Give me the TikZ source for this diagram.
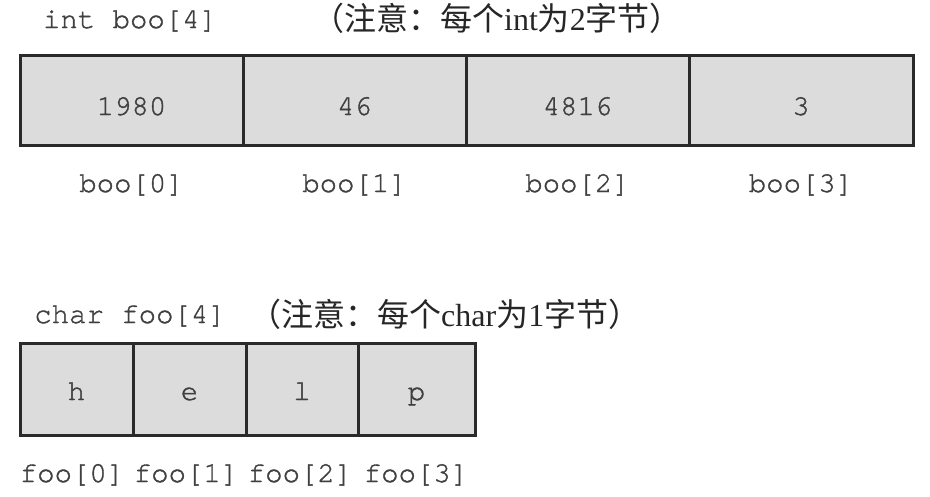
\documentclass[tikz,border=0pt]{standalone}
\usepackage{fontspec}
\setmainfont{Liberation Serif}
\newfontfamily\codefont[FakeBold=1.3]{TeX Gyre Cursor}
\newfontfamily\cjk{Noto Sans CJK SC}
\definecolor{cellfill}{HTML}{DCDCDC}
\definecolor{cellline}{HTML}{2A2A2A}
\definecolor{codetext}{HTML}{404040}
\begin{document}
\begin{tikzpicture}[x=1pt,y=-1pt,
  cellbox/.style={draw=cellline, line width=3pt, fill=cellfill, inner sep=0pt, outer sep=0pt},
  code/.style={font=\codefont\fontsize{29}{31}\selectfont, text=codetext, inner sep=0pt, anchor=base},
  note/.style={font=\fontsize{32}{35}\selectfont, text=black!85, inner sep=0pt, anchor=base west}]
\useasboundingbox (0,0) rectangle (930,496);
% int array
\foreach \i/\l/\r/\v in {0/20/243/1980,1/243/466/46,2/466/689/4816,3/689/913/3}{
  \node[cellbox, minimum width={\r-\l}, minimum height=90pt, anchor=north west] (b\i) at (\l,55) {};
  \node[code] (bv\i) at ({(\l+\r)/2},115) {\v};
  \node[code] (bl\i) at ({(\l+\r)/2},192) {boo[\i]};
}
\node[code] (bt) at (130,28) {int boo[4]};
\node[note] (bn) at (312,30) {{\cjk （注意：每个}int{\cjk 为}2{\cjk 字节）}};
% char array
\foreach \i/\l/\r/\v in {0/20/133/h,1/133/246/e,2/246/358/l,3/358/475/p}{
  \node[cellbox, minimum width={\r-\l}, minimum height=92pt, anchor=north west] (f\i) at (\l,343) {};
  \node[code] (fv\i) at ({(\l+\r)/2},400) {\v};
}
\foreach \i/\x in {0/72,1/186,2/300,3/416}{
  \node[code] (fl\i) at (\x,482) {foo[\i]};
}
\node[code] (ft) at (130,323) {char foo[4]};
\node[note] (fn) at (249,326) {{\cjk （注意：每个}char{\cjk 为}1{\cjk 字节）}};
\end{tikzpicture}
\end{document}
